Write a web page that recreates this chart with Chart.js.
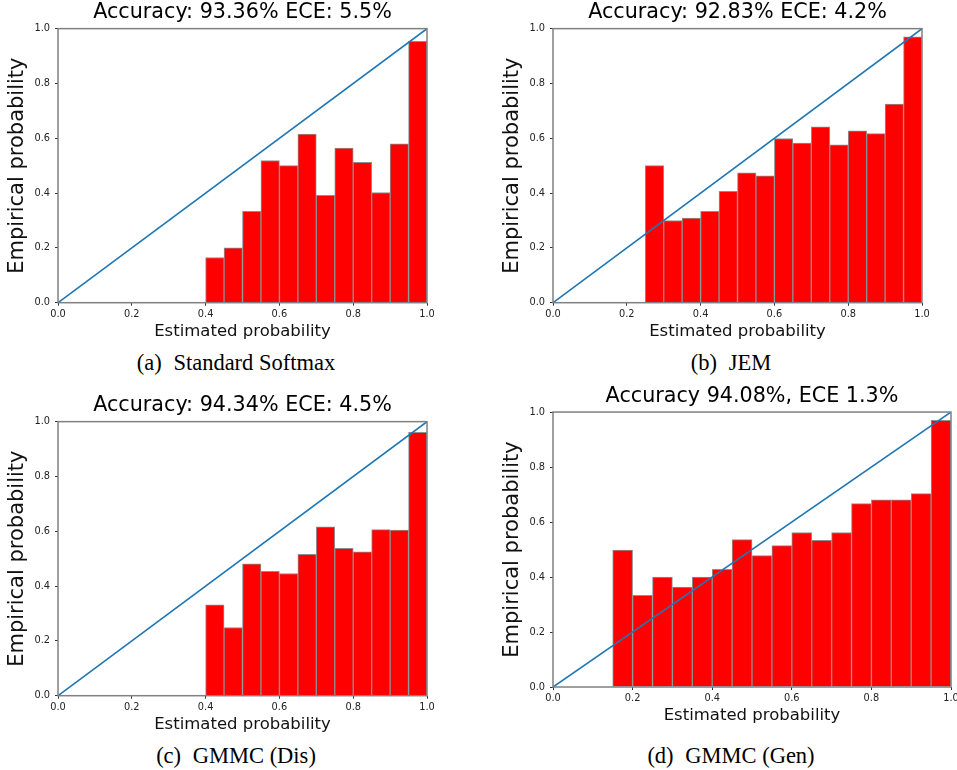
<!DOCTYPE html>
<html>
<head>
<meta charset="utf-8">
<script src="https://cdn.jsdelivr.net/npm/chart.js@4"></script>
<style>
	body { margin: 0; background: #fff; width: 957px; height: 770px; overflow: hidden; position: relative; }
	canvas { position: absolute; }
	.cap { position: absolute; width: 400px; text-align: center; font-family: "Liberation Serif", serif; font-size: 22.5px; line-height: 22.5px; color: #000; white-space: nowrap; }
	.cap span { margin-right: 6px; }
</style>
</head>
<body>
<canvas id="chartA" width="447" height="343" style="left:0px;top:0px"></canvas>
<canvas id="chartB" width="447" height="343" style="left:495px;top:0px"></canvas>
<canvas id="chartC" width="447" height="343" style="left:0px;top:393px"></canvas>
<canvas id="chartD" width="476" height="344" style="left:495px;top:383px"></canvas>
<div class="cap" style="left:36px;top:352px"><span>(a)</span> Standard Softmax</div>
<div class="cap" style="left:531px;top:352px"><span>(b)</span> JEM</div>
<div class="cap" style="left:36px;top:745px"><span>(c)</span> GMMC (Dis)</div>
<div class="cap" style="left:531px;top:745px"><span>(d)</span> GMMC (Gen)</div>
<script>
// confidence bins (left edges), 20 bins of width 0.05
const binEdges = ["0.00", "0.05", "0.10", "0.15", "0.20", "0.25", "0.30", "0.35", "0.40", "0.45",
	"0.50", "0.55", "0.60", "0.65", "0.70", "0.75", "0.80", "0.85", "0.90", "0.95"];

// empirical accuracy per bin, null = empty bin
const accSoftmax = [null, null, null, null, null, null, null, null,
	0.165, 0.200, 0.333, 0.519, 0.500, 0.615, 0.392, 0.564, 0.512, 0.402, 0.580, 0.954];
const accJem = [null, null, null, null, null,
	0.500, 0.300, 0.309, 0.333, 0.406, 0.474, 0.463, 0.599, 0.582, 0.642, 0.576, 0.627, 0.617, 0.725, 0.970];
const accDis = [null, null, null, null, null, null, null, null,
	0.332, 0.249, 0.481, 0.454, 0.446, 0.516, 0.616, 0.538, 0.525, 0.606, 0.604, 0.961];
const accGen = [null, null, null,
	0.498, 0.333, 0.400, 0.363, 0.400, 0.428, 0.536, 0.478, 0.514, 0.562, 0.533, 0.562, 0.667, 0.681, 0.681, 0.703, 0.970];

// perfect calibration line
const diagonal = [0, 1];

const titles = [
	"Accuracy: 93.36% ECE: 5.5%",
	"Accuracy: 92.83% ECE: 4.2%",
	"Accuracy: 94.34% ECE: 4.5%",
	"Accuracy 94.08%, ECE 1.3%"
];

Chart.defaults.font.family = "DejaVu Sans";

const framePlugin = {
	id: "frame",
	afterDatasetsDraw(chart) {
		const ctx = chart.ctx;
		const a = chart.chartArea;
		ctx.save();
		ctx.strokeStyle = "#808080";
		ctx.lineWidth = 1.5;
		ctx.strokeRect(a.left, a.top, a.right - a.left, a.bottom - a.top);
		ctx.restore();
	}
};

function makeChart(id, title, acc, padTop, padBottom) {
	var tickFont = { family: "DejaVu Sans", size: 9.8 };
	return new Chart(document.getElementById(id), {
		type: "bar",
		data: {
			labels: binEdges,
			datasets: [
				{
					type: "line",
					data: diagonal.map(function (v) { return { x: v, y: v }; }),
					xAxisID: "x",
					borderColor: "#1f77b4",
					borderWidth: 1.6,
					pointRadius: 0,
					fill: false,
					order: 0
				},
				{
					type: "bar",
					data: acc,
					xAxisID: "bins",
					backgroundColor: "#ff0000",
					borderColor: "#8f8f8f",
					borderWidth: 1,
					categoryPercentage: 1,
					barPercentage: 1,
					grouped: false,
					order: 1
				}
			]
		},
		options: {
			responsive: false,
			animation: false,
			layout: { padding: { left: 0, right: 20, top: padTop, bottom: padBottom } },
			plugins: {
				legend: { display: false },
				tooltip: { enabled: false },
				title: {
					display: true,
					text: title,
					fullSize: false,
					color: "#000",
					font: { family: "DejaVu Sans", size: 20.7, weight: "normal" },
					padding: { top: 0, bottom: 3.5 }
				}
			},
			scales: {
				bins: { type: "category", display: false, offset: true },
				x: {
					type: "linear",
					position: "bottom",
					offset: false,
					min: 0,
					max: 1,
					afterFit: function (s) { s.height = 40; },
					ticks: { stepSize: 0.2, color: "#222", font: tickFont, padding: 3, maxRotation: 0,
						callback: function (v) { return v.toFixed(1); } },
					grid: { display: true, offset: false, drawOnChartArea: false, drawTicks: true, tickLength: 3, color: "#333" },
					border: { display: false },
					title: { display: true, text: "Estimated probability", color: "#111",
						font: { family: "DejaVu Sans", size: 16.5 }, padding: { top: 0, bottom: 1.5 } }
				},
				y: {
					min: 0,
					max: 1,
					afterFit: function (s) { s.width = 58; },
					ticks: { stepSize: 0.2, color: "#222", font: tickFont, padding: 5,
						callback: function (v) { return v.toFixed(1); } },
					grid: { display: true, drawOnChartArea: false, drawTicks: true, tickLength: 3, color: "#333" },
					border: { display: false },
					title: { display: true, text: "Empirical probability", color: "#111",
						font: { family: "DejaVu Sans", size: 21 }, padding: { top: 5, bottom: 0 } }
				}
			}
		},
		plugins: [framePlugin]
	});
}

makeChart("chartA", titles[0], accSoftmax, 0.3, 0.3);
makeChart("chartB", titles[1], accJem, 0.3, 0.3);
makeChart("chartC", titles[2], accDis, 0.3, 0.3);
makeChart("chartD", titles[3], accGen, 0.7, 0);
</script>
</body>
</html>
